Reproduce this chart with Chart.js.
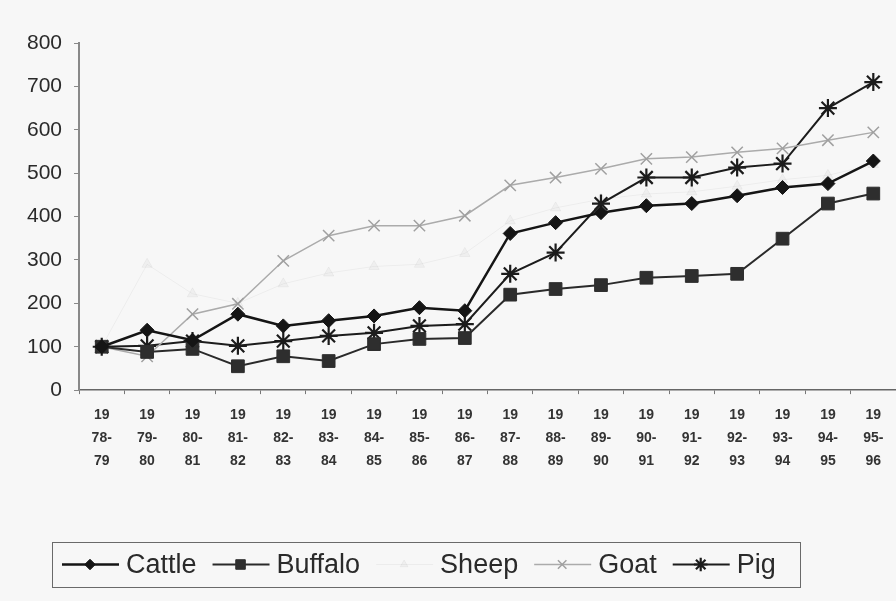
<!DOCTYPE html>
<html>
<head>
<meta charset="utf-8">
<script src="https://cdn.jsdelivr.net/npm/chart.js@4.4.1/dist/chart.umd.min.js"></script>
<style>
  html, body { margin: 0; padding: 0; background: #f7f7f7; }
  #wrap { width: 896px; height: 601px; position: relative; }
</style>
</head>
<body>
<div id="wrap"><canvas id="livestockChart"></canvas></div>
<script>
// index numbers, 1978-79 = 100
const years = [
  ['19', '78-', '79'], ['19', '79-', '80'], ['19', '80-', '81'], ['19', '81-', '82'],
  ['19', '82-', '83'], ['19', '83-', '84'], ['19', '84-', '85'], ['19', '85-', '86'],
  ['19', '86-', '87'], ['19', '87-', '88'], ['19', '88-', '89'], ['19', '89-', '90'],
  ['19', '90-', '91'], ['19', '91-', '92'], ['19', '92-', '93'], ['19', '93-', '94'],
  ['19', '94-', '95'], ['19', '95-', '96']
];
const cattle  = [100, 138, 115, 175, 148, 160, 171, 190, 183, 361, 386, 409, 425, 430, 448, 467, 476, 528];
const buffalo = [100, 88, 95, 55, 78, 67, 106, 118, 120, 220, 233, 242, 259, 263, 268, 349, 430, 453];
const sheep   = [100, 290, 222, 200, 245, 270, 285, 290, 315, 390, 420, 440, 452, 457, 470, 485, 495, 520];
const goat    = [100, 78, 175, 199, 298, 356, 379, 379, 402, 472, 490, 510, 533, 537, 548, 557, 576, 594];
const pig     = [100, 102, 113, 102, 113, 125, 132, 148, 152, 268, 317, 430, 490, 490, 513, 522, 650, 710];
const yTicks  = [0, 100, 200, 300, 400, 500, 600, 700, 800];

// legend drawn as a boxed row with line + marker samples
const boxLegend = {
  id: 'boxLegend',
  afterDraw(chart) {
    const ctx = chart.ctx;
    const left = 52, top = chart.height - 59, w = 748, h = 45;
    const cy = top + h / 2;
    ctx.save();
    ctx.strokeStyle = '#6a6a6a';
    ctx.lineWidth = 1;
    ctx.strokeRect(left + 0.5, top + 0.5, w, h);
    ctx.font = '27px "Liberation Sans", Arial, sans-serif';
    ctx.textBaseline = 'middle';
    let x = left + 10;
    chart.data.datasets.forEach(ds => {
      ctx.strokeStyle = ds.borderColor;
      ctx.fillStyle = ds.pointBackgroundColor;
      ctx.lineWidth = ds.borderWidth;
      ctx.beginPath();
      ctx.moveTo(x, cy);
      ctx.lineTo(x + 57, cy);
      ctx.stroke();
      ctx.strokeStyle = ds.pointBorderColor;
      ctx.lineWidth = ds.pointBorderWidth;
      Chart.helpers.drawPoint(ctx, {
        pointStyle: ds.pointStyle,
        radius: ds.pointRadius * 0.75,
        borderWidth: ds.pointBorderWidth,
        rotation: 0
      }, x + 28, cy);
      ctx.fillStyle = '#2a2a2a';
      ctx.fillText(ds.label, x + 64, cy + 1);
      x += 64 + ctx.measureText(ds.label).width + 16;
    });
    ctx.restore();
  }
};

const ctx = document.getElementById('livestockChart').getContext('2d');
const livestockChart = new Chart(ctx, {
  type: 'line',
  data: {
    labels: years,
    datasets: [
      {
        label: 'Cattle', data: cattle,
        borderColor: '#151515', borderWidth: 2.5,
        pointStyle: 'rectRot', pointRadius: 7,
        pointBackgroundColor: '#151515', pointBorderColor: '#151515', pointBorderWidth: 1
      },
      {
        label: 'Buffalo', data: buffalo,
        borderColor: '#2a2a2a', borderWidth: 2,
        pointStyle: 'rect', pointRadius: 9,
        pointBackgroundColor: '#2e2e2e', pointBorderColor: '#2e2e2e', pointBorderWidth: 1
      },
      {
        label: 'Sheep', data: sheep,
        borderColor: 'rgba(0,0,0,0.045)', borderWidth: 1,
        pointStyle: 'triangle', pointRadius: 6,
        pointBackgroundColor: 'rgba(0,0,0,0.03)', pointBorderColor: 'rgba(0,0,0,0.045)', pointBorderWidth: 1
      },
      {
        label: 'Goat', data: goat,
        borderColor: '#ababab', borderWidth: 1.5,
        pointStyle: 'crossRot', pointRadius: 8,
        pointBackgroundColor: '#a0a0a0', pointBorderColor: '#a0a0a0', pointBorderWidth: 1.5
      },
      {
        label: 'Pig', data: pig,
        borderColor: '#1c1c1c', borderWidth: 2,
        pointStyle: 'star', pointRadius: 9,
        pointBackgroundColor: '#1c1c1c', pointBorderColor: '#1c1c1c', pointBorderWidth: 2.2
      }
    ]
  },
  options: {
    responsive: true,
    maintainAspectRatio: false,
    animation: false,
    layout: { autoPadding: false, padding: { top: 43, right: 0, bottom: 118, left: 15 } },
    plugins: {
      legend: { display: false },
      tooltip: { enabled: false }
    },
    scales: {
      x: {
        offset: true,
        grid: {
          offset: true, drawOnChartArea: false, drawTicks: true,
          tickLength: 4, color: '#777'
        },
        border: { color: '#666', width: 1.5 },
        ticks: {
          color: '#333', autoSkip: false, maxRotation: 0, padding: 10,
          font: { family: '"Liberation Sans", Arial, sans-serif', size: 14, weight: 'bold', lineHeight: 1.64 }
        }
      },
      y: {
        min: 0, max: 800,
        afterBuildTicks: axis => { axis.ticks = yTicks.map(v => ({ value: v })); },
        grid: { drawOnChartArea: false, drawTicks: true, tickLength: 5, color: '#888' },
        border: { color: '#888', width: 2 },
        ticks: {
          color: '#2a2a2a', padding: 12,
          font: { family: '"Liberation Sans", Arial, sans-serif', size: 21 }
        }
      }
    }
  },
  plugins: [boxLegend]
});
</script>
</body>
</html>
